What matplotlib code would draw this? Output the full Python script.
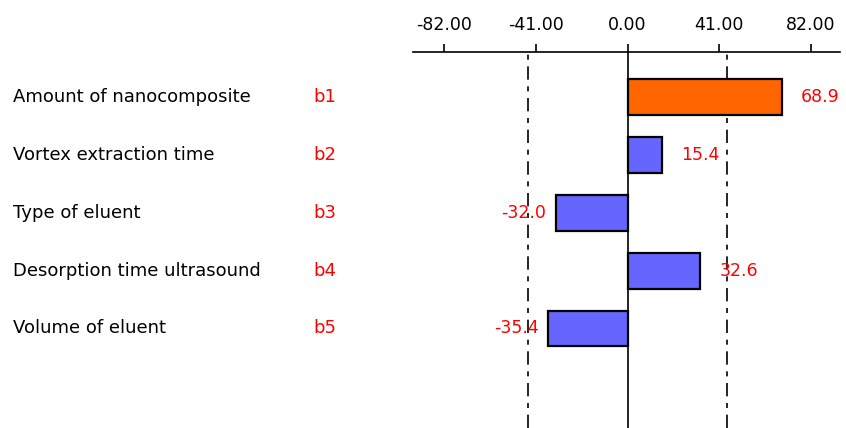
import numpy as np
from matplotlib import pyplot as plt
from matplotlib.transforms import blended_transform_factory

factors = ['Amount of nanocomposite', 'Vortex extraction time', 'Type of eluent',
           'Desorption time ultrasound', 'Volume of eluent']
codes = ['b1', 'b2', 'b3', 'b4', 'b5']
effects = [68.9, 15.4, -32.0, 32.6, -35.4]
ticks = [-82.0, -41.0, 0.0, 41.0, 82.0]
crit = 44.5

fig = plt.figure(figsize=(8.46, 4.28), dpi=100)
ax = fig.add_axes([413 / 846, 0, 427 / 846, 1 - 52 / 428])

y = np.arange(len(effects))
colors = ['#ff6600' if abs(v) > crit else '#6666ff' for v in effects]
ax.barh(y, effects, height=0.62, color=colors, edgecolor='black', linewidth=1.6, zorder=3)

ax.axvline(0, color='black', linewidth=1.2, zorder=4)
for c in (-crit, crit):
    ax.axvline(c, color='black', linewidth=1.2, dashes=(8, 4, 3, 4), zorder=2)

ax.set_xlim(-96, 95)
ax.set_ylim(len(effects) - 1 + 1.72, -0.776)

ax.xaxis.tick_top()
ax.set_xticks(ticks)
ax.set_xticklabels(['%.2f' % t for t in ticks], fontsize=12.5)
ax.tick_params(axis='x', direction='out', length=6, width=1.2, pad=7)
ax.set_yticks([])
for s in ['left', 'right', 'bottom']:
    ax.spines[s].set_visible(False)
ax.spines['top'].set_linewidth(1.2)

trans = blended_transform_factory(fig.transFigure, ax.transData)
for i in range(len(effects)):
    ax.text(13 / 846, y[i], factors[i], transform=trans, ha='left', va='center',
            fontsize=13, color='black', clip_on=False)
    ax.text(313 / 846, y[i], codes[i], transform=trans, ha='left', va='center',
            fontsize=13, color='red', clip_on=False)
    v = effects[i]
    if v >= 0:
        ax.annotate('%.1f' % v, (v, y[i]), xytext=(14, 0), textcoords='offset points',
                    ha='left', va='center', fontsize=12.5, color='red', zorder=5)
    else:
        ax.annotate('%.1f' % v, (v, y[i]), xytext=(-7, 0), textcoords='offset points',
                    ha='right', va='center', fontsize=12.5, color='red', zorder=5)

fig.savefig('out.png', dpi=100)
